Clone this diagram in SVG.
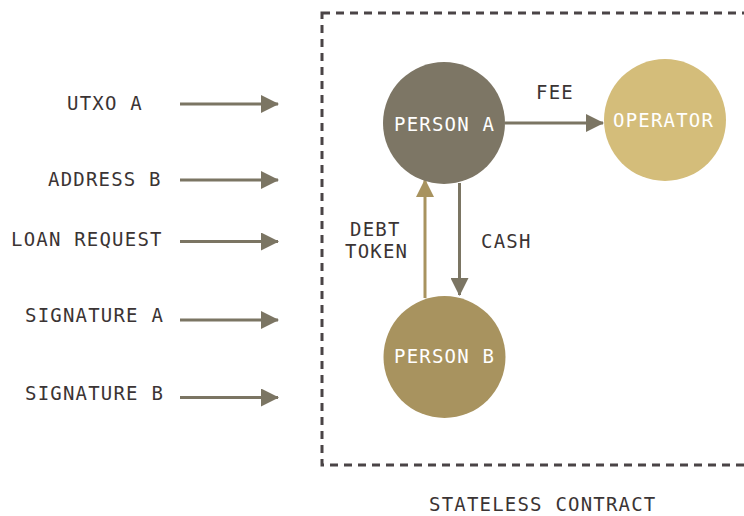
<svg xmlns="http://www.w3.org/2000/svg" width="744" height="516" viewBox="0 0 744 516">
  <defs>
    <style>
      .lbl { font-family: "DejaVu Sans Mono", "Liberation Mono", monospace; font-size: 19px; letter-spacing: 1.2px; fill: #3b3434; }
      .node-t { font-family: "DejaVu Sans Mono", "Liberation Mono", monospace; font-size: 19px; letter-spacing: 1.2px; fill: #ffffff; }
      .grey { stroke: #7b7563; stroke-width: 3; fill: none; }
      .gold { stroke: #a8935f; stroke-width: 3; fill: none; }
    </style>
    <marker id="ah-grey" markerUnits="userSpaceOnUse" markerWidth="18" markerHeight="18" viewBox="0 0 18 18" refX="17" refY="9" orient="auto">
      <path d="M0,0 L18,9 L0,18 Z" fill="#7b7563"/>
    </marker>
    <marker id="ah-gold" markerUnits="userSpaceOnUse" markerWidth="18" markerHeight="18" viewBox="0 0 18 18" refX="17" refY="9" orient="auto">
      <path d="M0,0 L18,9 L0,18 Z" fill="#a8935f"/>
    </marker>
  </defs>
  <rect width="744" height="516" fill="#ffffff"/>

  <g id="contract">
    <rect x="322" y="13" width="440" height="452" fill="none" stroke="#4a4446" stroke-width="3" stroke-dasharray="8 6"/>
    <text class="lbl" x="429" y="511">STATELESS CONTRACT</text>
  </g>

  <g id="inputs">
    <text class="lbl" x="67" y="110">UTXO A</text>
    <text class="lbl" x="48" y="186">ADDRESS B</text>
    <text class="lbl" x="11" y="246">LOAN REQUEST</text>
    <text class="lbl" x="25" y="322">SIGNATURE A</text>
    <text class="lbl" x="25" y="400">SIGNATURE B</text>
  </g>

  <g id="connectors">
    <line class="grey" x1="180" y1="104" x2="278" y2="104" marker-end="url(#ah-grey)"/>
    <line class="grey" x1="180" y1="180" x2="278" y2="180" marker-end="url(#ah-grey)"/>
    <line class="grey" x1="180" y1="241.5" x2="278" y2="241.5" marker-end="url(#ah-grey)"/>
    <line class="grey" x1="180" y1="320" x2="278" y2="320" marker-end="url(#ah-grey)"/>
    <line class="grey" x1="180" y1="397.5" x2="278" y2="397.5" marker-end="url(#ah-grey)"/>
    <line class="grey" x1="505" y1="123" x2="603" y2="123" marker-end="url(#ah-grey)"/>
    <line class="grey" x1="459.5" y1="183" x2="459.5" y2="295" marker-end="url(#ah-grey)"/>
    <line class="gold" x1="425" y1="298" x2="425" y2="180" marker-end="url(#ah-gold)"/>
    <text class="lbl" x="536" y="99">FEE</text>
    <text class="lbl" x="350" y="236">DEBT</text>
    <text class="lbl" x="345" y="258">TOKEN</text>
    <text class="lbl" x="481" y="248">CASH</text>
  </g>

  <g id="person-a">
    <circle cx="444" cy="123" r="61" fill="#7d7665"/>
    <text class="node-t" x="394" y="131">PERSON A</text>
  </g>

  <g id="operator">
    <circle cx="665" cy="120" r="61" fill="#d4bd7a"/>
    <text class="node-t" x="613" y="127">OPERATOR</text>
  </g>

  <g id="person-b">
    <circle cx="444.5" cy="357" r="61" fill="#a8935f"/>
    <text class="node-t" x="394" y="363">PERSON B</text>
  </g>
</svg>
